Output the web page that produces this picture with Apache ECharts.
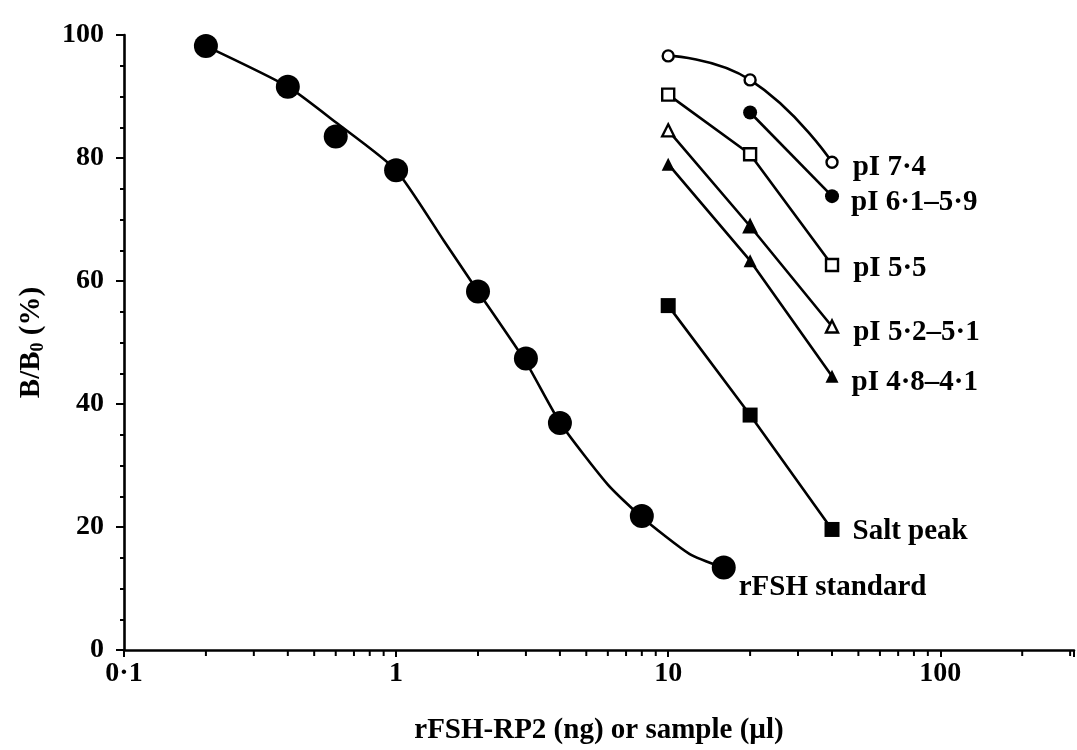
<!DOCTYPE html>
<html>
<head>
<meta charset="utf-8">
<script src="https://cdn.jsdelivr.net/npm/echarts@6/dist/echarts.min.js"></script>
<style>
  html, body { margin: 0; padding: 0; background: #fff; }
  #chart { width: 1077px; height: 750px; }
</style>
</head>
<body>
<div id="chart"></div>
<script>
// rFSH standard curve: dose (ng) and binding B/B0 (%)
const stdDose = [0.2, 0.4, 0.6, 1, 2, 3, 4, 8, 16];
const stdBinding = [98.2, 91.6, 83.5, 78.0, 58.3, 47.4, 36.9, 21.8, 13.4];
// fitted standard curve as drawn through the points
const stdCurveDose = [0.2, 0.4, 0.6, 1, 1.5, 2, 3, 4, 6, 8, 12, 16];
const stdCurveBinding = [98.2, 91.6, 85.8, 78.0, 66.5, 58.3, 46.8, 37.0, 26.9, 21.6, 15.6, 13.4];

// chromatofocusing fractions: sample volume (µl) and binding (%)
const sampleVolume = [10, 20, 40];
const pI74 = [96.6, 92.7, 79.3];
const pI61_59 = [null, 87.4, 73.8];
const pI55 = [90.3, 80.6, 62.6];
const pI52_51 = [84.5, 68.9, 52.6];
const pI48_41 = [79.0, 63.3, 44.5];
const saltPeak = [56.0, 38.2, 19.6];

// axis ticks
const xTickValues = [0.1, 1, 10, 100];
const xTickText = ['0·1', '1', '10', '100'];
const xMinorTicks = [0.2, 0.3, 0.4, 0.5, 0.6, 0.7, 0.8, 0.9,
                     2, 3, 4, 5, 6, 7, 8, 9,
                     20, 30, 40, 50, 60, 70, 80, 90,
                     200, 300];

const FONT = 'Liberation Serif';
const INK = '#000';

function pairs(xs, ys) {
  const out = [];
  xs.forEach((x, i) => { if (ys[i] != null) out.push([x, ys[i]]); });
  return out;
}

// line series with its name written beside the last point
function fraction(name, values, symbol, size, open, smooth, labelDist, labelOffset, itemOverrides) {
  const pts = pairs(sampleVolume, values);
  const data = pts.map((p, i) => {
    const item = { value: p };
    if (itemOverrides && itemOverrides[i]) item.itemStyle = itemOverrides[i];
    if (i === pts.length - 1) {
      item.label = {
        show: true, position: 'right', distance: labelDist, offset: labelOffset,
        formatter: name, color: INK, fontFamily: FONT, fontWeight: 'bold', fontSize: 29
      };
    }
    return item;
  });
  return {
    name: name, type: 'line', data: data, smooth: smooth,
    symbol: symbol, symbolSize: size, showAllSymbol: true,
    lineStyle: { color: INK, width: 2.6 },
    itemStyle: { color: open ? '#fff' : INK, borderColor: INK, borderWidth: open ? 2.4 : 0, opacity: 1 },
    z: 3
  };
}

const chart = echarts.init(document.getElementById('chart'), null, { renderer: 'canvas' });

chart.setOption({
  animation: false,
  backgroundColor: '#fff',
  grid: { left: 124, right: 0, top: 35, bottom: 98, containLabel: false },
  xAxis: {
    type: 'log', logBase: 10, min: 0.1, max: 310,
    name: 'rFSH-RP2 (ng) or sample (µl)',
    nameLocation: 'middle', nameGap: 66,
    nameTextStyle: { color: INK, fontFamily: FONT, fontWeight: 'bold', fontSize: 29 },
    axisLine: { lineStyle: { color: INK, width: 2.6 } },
    axisTick: { show: true, inside: false, length: 7, lineStyle: { color: INK, width: 2 } },
    splitLine: { show: false },
    axisLabel: {
      color: INK, fontFamily: FONT, fontWeight: 'bold', fontSize: 28, margin: 10,
      formatter: function (v) {
        for (let i = 0; i < xTickValues.length; i++) {
          if (Math.abs(Math.log10(v) - Math.log10(xTickValues[i])) < 1e-6) return xTickText[i];
        }
        return '';
      }
    }
  },
  yAxis: {
    type: 'value', min: 0, max: 100, interval: 20,
    name: 'B/B{sub|0} (%)',
    nameLocation: 'middle', nameRotate: 90, nameGap: 77,
    nameTextStyle: {
      color: INK, fontFamily: FONT, fontWeight: 'bold', fontSize: 29,
      rich: { sub: { fontFamily: FONT, fontWeight: 'bold', fontSize: 18, padding: [12, 0, 0, 0] } }
    },
    axisLine: { show: true, lineStyle: { color: INK, width: 2.6 } },
    axisTick: { show: true, inside: false, length: 8, lineStyle: { color: INK, width: 2 } },
    minorTick: { show: true, splitNumber: 4, length: 4, lineStyle: { color: INK, width: 2 } },
    splitLine: { show: false },
    axisLabel: { color: INK, fontFamily: FONT, fontWeight: 'bold', fontSize: 28, margin: 20 }
  },
  series: [
    // decade subdivisions on the log axis
    {
      type: 'scatter', data: xMinorTicks.map(v => [v, 0]),
      symbol: 'rect', symbolSize: [2, 5], symbolOffset: [0, 3.5],
      itemStyle: { color: INK, opacity: 1 }, silent: true, clip: false, z: 1
    },
    // standard curve
    {
      type: 'line', data: pairs(stdCurveDose, stdCurveBinding), smooth: 0.2,
      showSymbol: false, lineStyle: { color: INK, width: 2.6 }, z: 2
    },
    // standard points
    {
      name: 'rFSH standard', type: 'scatter', symbol: 'circle', symbolSize: 24,
      itemStyle: { color: INK, opacity: 1 },
      data: pairs(stdDose, stdBinding).map((p, i, arr) => {
        const item = { value: p };
        if (i === arr.length - 1) {
          item.label = {
            show: true, position: [27, 32], align: 'left', verticalAlign: 'middle',
            formatter: 'rFSH standard', color: INK, fontFamily: FONT, fontWeight: 'bold', fontSize: 29
          };
        }
        return item;
      }),
      z: 4
    },
    fraction('pI 7·4', pI74, 'circle', 11, true, true, 14, [0, 5]),
    fraction('pI 6·1–5·9', pI61_59, 'circle', 14, false, false, 12, [0, 6]),
    fraction('pI 5·5', pI55, 'rect', 12, true, false, 14, [0, 4]),
    fraction('pI 5·2–5·1', pI52_51, 'triangle', 12, true, false, 14, [0, 6],
             [null, { color: INK }]),
    fraction('pI 4·8–4·1', pI48_41, 'triangle', 13, false, false, 13, [0, 6]),
    fraction('Salt peak', saltPeak, 'rect', 15, false, false, 13, [0, 2])
  ]
});
</script>
</body>
</html>
